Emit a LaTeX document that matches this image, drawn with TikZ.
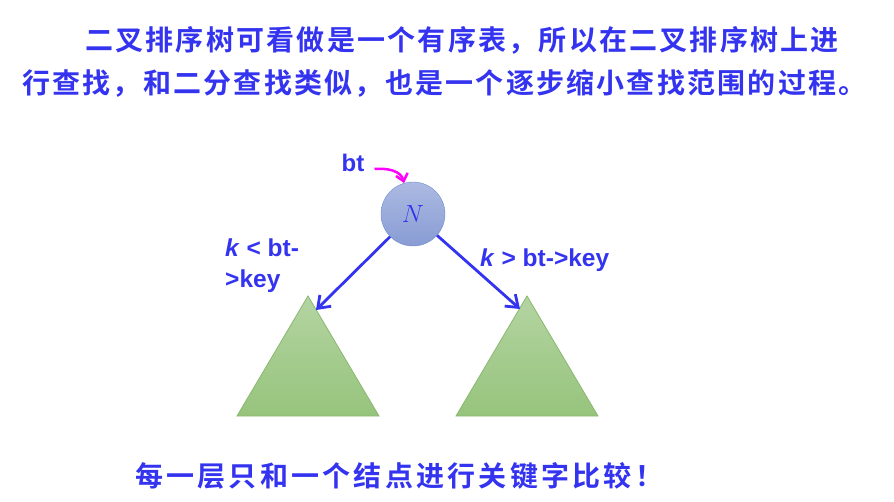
\documentclass[tikz,border=0pt]{standalone}
\usepackage{fontspec}
\setsansfont{Liberation Sans}
\newfontfamily\cjkline[LetterSpace=8,UprightFont=* Bold]{Noto Sans CJK SC}
\newfontfamily\cjkwide[LetterSpace=11.6,UprightFont=* Bold]{Noto Sans CJK SC}
\usetikzlibrary{arrows.meta,positioning}
\definecolor{txtblue}{RGB}{51,51,240}
\definecolor{nodetop}{RGB}{172,186,226}
\definecolor{nodebot}{RGB}{136,156,212}
\definecolor{nodeline}{RGB}{110,140,206}
\definecolor{treetop}{RGB}{180,212,162}
\definecolor{treebot}{RGB}{150,196,124}
\definecolor{treeline}{RGB}{138,184,112}
\definecolor{btpink}{RGB}{255,0,255}

\begin{document}
\begin{tikzpicture}[x=1pt,y=-1pt,
        cjktext/.style={text=txtblue,inner sep=0pt,anchor=west,font=\cjkline\fontsize{28}{30}\selectfont},
        cond/.style={text=txtblue,inner sep=0pt,align=left,font=\sffamily\bfseries\fontsize{24.5}{31}\selectfont},
        subtree/.style={draw=treeline,top color=treetop,bottom color=treebot,line width=0.8pt},
        search/.style={draw=txtblue,line width=2.8pt,-{Straight Barb[length=11pt,width=16pt,line width=2.8pt]}}]

        \useasboundingbox (0,0) rectangle (894,502);

        % text
        \node[cjktext] (line_1) at (85,40) {二叉排序树可看做是一个有序表，所以在二叉排序树上进};
        \node[cjktext] (line_2) at (22,83) {行查找，和二分查找类似，也是一个逐步缩小查找范围的过程。};
        \node[cjktext,font=\cjkwide\fontsize{28}{30}\selectfont] (note) at (135,476) {每一层只和一个结点进行关键字比较！};

        % root
        \node[circle,draw=nodeline,top color=nodetop,bottom color=nodebot,minimum size=64pt,inner sep=0pt,
              text=txtblue,font=\fontsize{27}{27}\selectfont] (N) at (413,214) {$N$};
        \node[text=txtblue,inner sep=0pt,font=\sffamily\bfseries\fontsize{24}{24}\selectfont] (bt) at (353,163) {bt};
        \draw[btpink,line width=2.5pt,-{Straight Barb[length=7pt,width=12pt,line width=2.5pt]}]
            ([xshift=10pt,yshift=-6pt]bt.east) to[out=5,in=105] (N.106);

        % subtrees
        \path[subtree] (308,296) -- (379,416) -- (237,416) -- cycle;
        \path[subtree] (527,296) -- (598,416) -- (456,416) -- cycle;
        \coordinate (left_tree) at (316,310);
        \coordinate (right_tree) at (520,309);

        \draw[search] (N) -- (left_tree);
        \draw[search] (N) -- (right_tree);

        \node[cond,anchor=north west] (less) at (225,239) {\textit{k} < bt-\\>key};
        \node[cond,anchor=west] (more) at (480,260) {\textit{k} > bt->key};

    \end{tikzpicture}
\end{document}
